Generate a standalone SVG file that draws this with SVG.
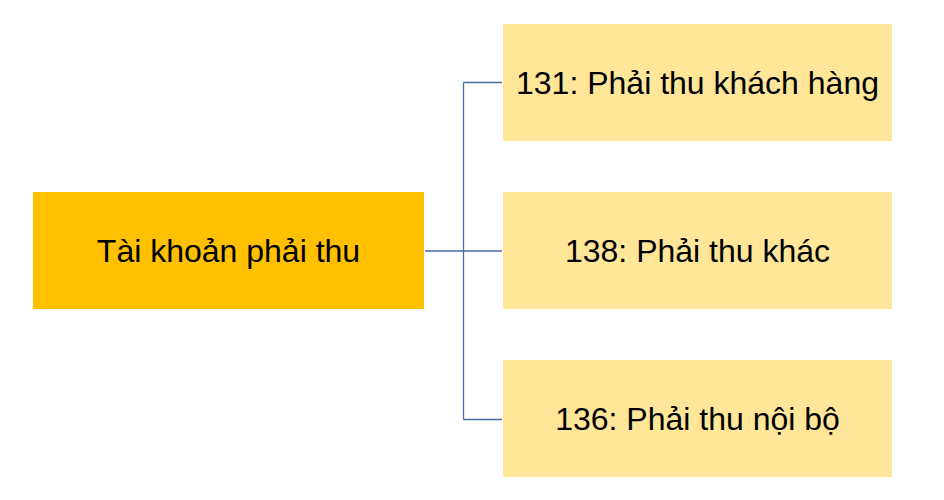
<svg xmlns="http://www.w3.org/2000/svg" width="944" height="500" viewBox="0 0 944 500">
<style>
.t{font-family:"Liberation Sans",Arial,sans-serif;font-size:32px;fill:#000;text-anchor:middle}
.c{fill:none;stroke:#4a6aa8;stroke-width:1.3}
.leaf{fill:#ffe699}
</style>
<rect width="944" height="500" fill="#fff"/>
<g id="connectors">
<path class="c" d="M425 251H502M463.5 82.5V419.5M463.5 82.5H502M463.5 419.5H502"/>
</g>
<g id="root">
<rect x="33" y="192" width="391" height="117" fill="#ffc000"/>
<text class="t" x="228.5" y="261.5">Tài khoản phải thu</text>
</g>
<g id="n131">
<rect class="leaf" x="503" y="24" width="389" height="117"/>
<text class="t" x="697.5" y="93.5">131: Phải thu khách hàng</text>
</g>
<g id="n138">
<rect class="leaf" x="503" y="192" width="389" height="117"/>
<text class="t" x="697.5" y="261.5">138: Phải thu khác</text>
</g>
<g id="n136">
<rect class="leaf" x="503" y="360" width="389" height="117"/>
<text class="t" x="697.5" y="429.5">136: Phải thu nội bộ</text>
</g>
</svg>
